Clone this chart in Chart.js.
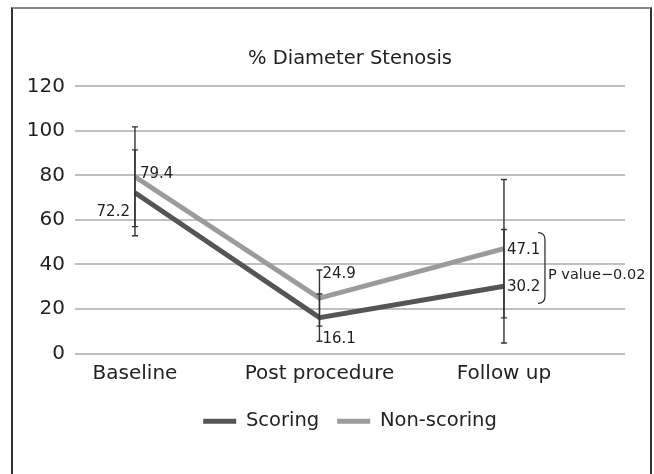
<!DOCTYPE html>
<html>
<head>
<meta charset="utf-8">
<script src="https://cdn.jsdelivr.net/npm/chart.js@4.4.1/dist/chart.umd.min.js"></script>
<style>
  html, body { margin: 0; padding: 0; background: #ffffff; }
  #wrap { position: relative; width: 654px; height: 474px; overflow: hidden; background: #fff; }
  #frame { position: absolute; left: 11px; top: 7px; width: 637px; height: 500px;
           border-left: 2px solid #333; border-right: 2px solid #333; border-top: 2px solid #888; }
  #holder { position: absolute; left: 0; top: 0; width: 654px; height: 474px; }
</style>
</head>
<body>
<div id="wrap">
  <div id="frame"></div>
  <div id="holder"><canvas id="c"></canvas></div>
</div>
<script>
// ---- data ----
const categories   = ['Baseline', 'Post procedure', 'Follow up'];
const seriesNames  = ['Scoring', 'Non-scoring'];
const scoring      = [72.2, 16.1, 30.2];
const nonScoring   = [79.4, 24.9, 47.1];
const scoringSD    = [19.3, 10.6, 25.5];
const nonScoringSD = [22.4, 12.6, 31.1];
const yMin = 0, yMax = 120, yStep = 20;
const chartTitle = '% Diameter Stenosis';
const pValueText = 'P value\u22120.02';

const FONT = "'DejaVu Sans', sans-serif";
const TEXT = '#222222';
const colors = ['#555555', '#9b9b9b'];

// label placement (style only): [dx, dy, align]
const labelPlace = [
  [[-5, 19, 'right'], [3, 21, 'left'], [3, 1, 'left']],
  [[5, -3, 'left'], [3, -24, 'left'], [3, 1, 'left']]
];

const allValues = [scoring, nonScoring];
const allSD = [scoringSD, nonScoringSD];

const annotPlugin = {
  id: 'annot',
  afterDatasetsDraw(chart) {
    const ctx = chart.ctx;
    const xs = chart.scales.x, ys = chart.scales.y;
    ctx.save();
    // error bars
    ctx.strokeStyle = '#333333';
    ctx.lineWidth = 1.4;
    allValues.forEach((vals, s) => {
      vals.forEach((v, i) => {
        const x = xs.getPixelForValue(i);
        const yt = ys.getPixelForValue(v + allSD[s][i]);
        const yb = ys.getPixelForValue(v - allSD[s][i]);
        ctx.beginPath();
        ctx.moveTo(x, yt); ctx.lineTo(x, yb);
        ctx.moveTo(x - 3, yt); ctx.lineTo(x + 3, yt);
        ctx.moveTo(x - 3, yb); ctx.lineTo(x + 3, yb);
        ctx.stroke();
      });
    });
    // value labels
    ctx.fillStyle = TEXT;
    ctx.font = '15px ' + FONT;
    ctx.textBaseline = 'middle';
    allValues.forEach((vals, s) => {
      vals.forEach((v, i) => {
        const p = labelPlace[s][i];
        const x = xs.getPixelForValue(i) + p[0];
        const y = ys.getPixelForValue(v) + p[1];
        ctx.textAlign = p[2];
        ctx.fillText(v.toFixed(1), x, y);
      });
    });
    // bracket between the two follow-up values
    const last = categories.length - 1;
    const bx = xs.getPixelForValue(last);
    const top = ys.getPixelForValue(nonScoring[last]) - 16;
    const bot = ys.getPixelForValue(scoring[last]) + 17;
    const x0 = bx + 34, x1 = bx + 41;
    ctx.lineWidth = 1.3;
    ctx.beginPath();
    ctx.moveTo(x0, top);
    ctx.quadraticCurveTo(x1, top, x1, top + 7);
    ctx.lineTo(x1, bot - 7);
    ctx.quadraticCurveTo(x1, bot, x0, bot);
    ctx.stroke();
    ctx.font = '14.5px ' + FONT;
    ctx.textAlign = 'left';
    ctx.fillText(pValueText, x1 + 3, (top + bot) / 2 + 7);
    ctx.restore();
  }
};

const datasets = allValues.map((vals, s) => ({
  label: seriesNames[s],
  data: vals.map((v, i) => ({ x: i, y: v })),
  borderColor: colors[s],
  backgroundColor: colors[s],
  borderWidth: 5,
  pointRadius: 0,
  tension: 0,
  borderJoinStyle: 'miter',
  borderCapStyle: 'butt'
}));

new Chart(document.getElementById('c'), {
  type: 'line',
  data: { datasets },
  options: {
    responsive: true,
    maintainAspectRatio: false,
    animation: false,
    devicePixelRatio: 1,
    layout: { padding: { left: 0, right: 29, top: 0, bottom: 33 } },
    plugins: {
      title: {
        display: true,
        fullSize: false,
        text: chartTitle,
        color: TEXT,
        font: { family: FONT, size: 19.5, weight: 'normal' },
        padding: { top: 47, bottom: 16 }
      },
      legend: {
        position: 'bottom',
        fullSize: false,
        labels: {
          color: TEXT,
          font: { family: FONT, size: 19.5 },
          boxWidth: 33,
          boxHeight: 5,
          padding: 18,
          generateLabels(chart) {
            return chart.data.datasets.map((d, i) => ({
              text: d.label,
              fillStyle: d.borderColor,
              strokeStyle: d.borderColor,
              lineWidth: 0,
              fontColor: TEXT,
              hidden: false,
              datasetIndex: i
            }));
          }
        }
      },
      tooltip: { enabled: false }
    },
    scales: {
      x: {
        type: 'linear',
        min: -0.325,
        max: 2.656,
        afterBuildTicks(scale) { scale.ticks = categories.map((_, i) => ({ value: i })); },
        ticks: {
          autoSkip: false,
          maxRotation: 0,
          padding: 8,
          color: TEXT,
          font: { family: FONT, size: 20 },
          callback: (v) => categories[v]
        },
        grid: { display: false, drawTicks: false },
        border: { display: false }
      },
      y: {
        min: yMin,
        max: yMax,
        ticks: {
          stepSize: yStep,
          padding: 10,
          color: TEXT,
          font: { family: FONT, size: 20 }
        },
        afterFit(scale) { scale.width = 75; },
        grid: { color: '#c0c0c0', lineWidth: 2, drawTicks: false },
        border: { display: false }
      }
    }
  },
  plugins: [annotPlugin]
});
</script>
</body>
</html>
